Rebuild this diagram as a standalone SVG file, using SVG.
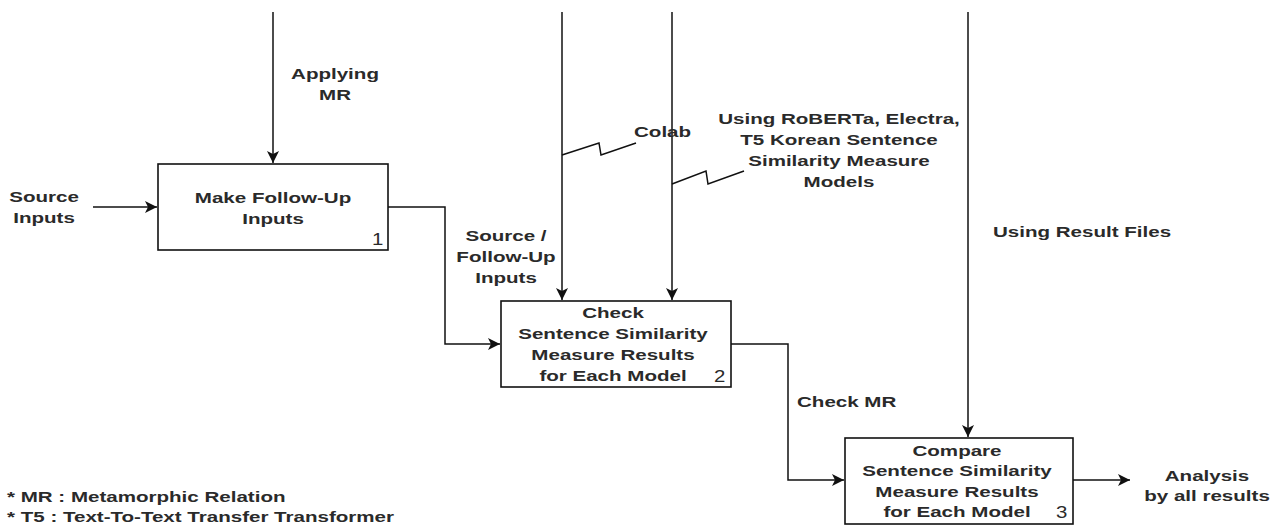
<svg xmlns="http://www.w3.org/2000/svg" width="1283" height="525" viewBox="0 0 1283 525">
<style>
.box{fill:#fff;stroke:#111;stroke-width:1.6}
.ln{fill:none;stroke:#111;stroke-width:1.5}
.t{font-family:"Liberation Sans",Arial,sans-serif;font-size:15px;font-weight:bold;fill:#2a2a2a}
.n{font-family:"Liberation Sans",Arial,sans-serif;font-size:17px;fill:#2a2a2a}
.c{text-anchor:middle}
</style>
<defs>
<marker id="ah" markerUnits="userSpaceOnUse" markerWidth="13" markerHeight="13" refX="12" refY="6" orient="auto">
<path d="M0,0 L12,6 L0,12 L3,6 z" fill="#111"/>
</marker>
</defs>
<rect width="1283" height="525" fill="#fff"/>
<g id="connectors">
<path class="ln" d="M273,12 V163" marker-end="url(#ah)"/>
<path class="ln" d="M93,207 H157" marker-end="url(#ah)"/>
<path class="ln" d="M388,207 H445 V344 H500" marker-end="url(#ah)"/>
<path class="ln" d="M562,12 V300" marker-end="url(#ah)"/>
<path class="ln" d="M672,12 V300" marker-end="url(#ah)"/>
<path class="ln" d="M968,12 V437" marker-end="url(#ah)"/>
<path class="ln" d="M731,344 H788 V480 H844" marker-end="url(#ah)"/>
<path class="ln" d="M1073,480 H1130" marker-end="url(#ah)"/>
<path class="ln" d="M562,155 L599,143 L601,155 L636,143"/>
<path class="ln" d="M672,184 L706,171 L708,184 L744,171"/>
<text class="t c" transform="translate(335,79) scale(1.37,1)"><tspan x="0">Applying</tspan><tspan x="0" dy="21">MR</tspan></text>
<text class="t c" transform="translate(44,202) scale(1.37,1)"><tspan x="0">Source</tspan><tspan x="0" dy="21">Inputs</tspan></text>
<text class="t" transform="translate(634,137) scale(1.37,1)">Colab</text>
<text class="t c" transform="translate(839,124) scale(1.37,1)"><tspan x="0">Using RoBERTa, Electra,</tspan><tspan x="0" dy="21">T5 Korean Sentence</tspan><tspan x="0" dy="21">Similarity Measure</tspan><tspan x="0" dy="21">Models</tspan></text>
<text class="t c" transform="translate(506,241) scale(1.37,1)"><tspan x="0">Source /</tspan><tspan x="0" dy="21">Follow-Up</tspan><tspan x="0" dy="21">Inputs</tspan></text>
<text class="t" transform="translate(993,237) scale(1.37,1)">Using Result Files</text>
<text class="t" transform="translate(797,407) scale(1.37,1)">Check MR</text>
<text class="t c" transform="translate(1207,481) scale(1.37,1)"><tspan x="0">Analysis</tspan><tspan x="0" dy="20">by all results</tspan></text>
</g>
<g id="node1">
<rect class="box" x="158" y="164" width="230" height="86"/>
<text class="t c" transform="translate(273,203) scale(1.37,1)"><tspan x="0">Make Follow-Up</tspan><tspan x="0" dy="21">Inputs</tspan></text>
<text class="n" transform="translate(372,245) scale(1.2,1)">1</text>
</g>
<g id="node2">
<rect class="box" x="501" y="301" width="230" height="86"/>
<text class="t c" transform="translate(613,318) scale(1.37,1)"><tspan x="0">Check</tspan><tspan x="0" dy="21">Sentence Similarity</tspan><tspan x="0" dy="21">Measure Results</tspan><tspan x="0" dy="21">for Each Model</tspan></text>
<text class="n" transform="translate(714,382) scale(1.2,1)">2</text>
</g>
<g id="node3">
<rect class="box" x="845" y="438" width="228" height="86"/>
<text class="t c" transform="translate(957,456) scale(1.37,1)"><tspan x="0">Compare</tspan><tspan x="0" dy="20.5">Sentence Similarity</tspan><tspan x="0" dy="20.5">Measure Results</tspan><tspan x="0" dy="20.5">for Each Model</tspan></text>
<text class="n" transform="translate(1056,518) scale(1.2,1)">3</text>
</g>
<g id="notes">
<text class="t" transform="translate(7,502) scale(1.37,1)"><tspan x="0">* MR : Metamorphic Relation</tspan><tspan x="0" dy="20">* T5 : Text-To-Text Transfer Transformer</tspan></text>
</g>
</svg>
